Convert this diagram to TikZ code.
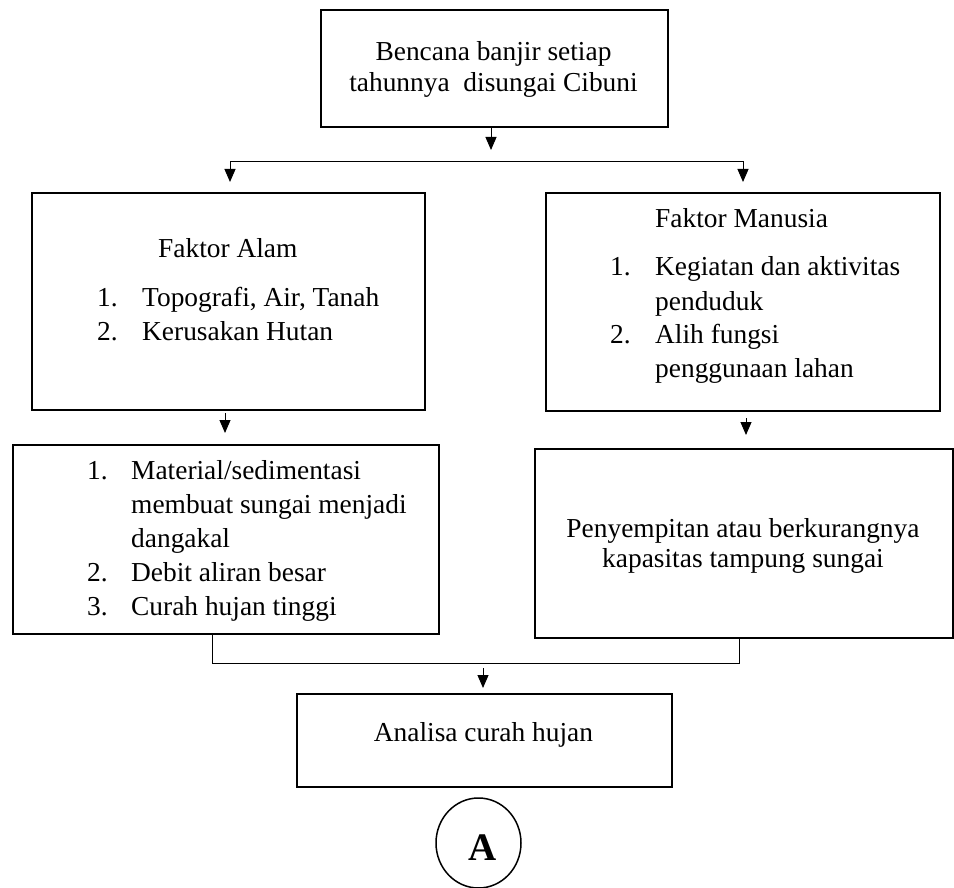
\documentclass[tikz,border=0pt]{standalone}
\usepackage{fontspec}
\setmainfont{Liberation Serif}
\usetikzlibrary{arrows.meta,shapes.geometric}
\begin{document}
\begin{tikzpicture}[x=1pt,y=-1pt,
  boxstyle/.style={draw, line width=2pt, inner sep=0pt, anchor=north west},
  conn/.style={line width=1pt},
  arr/.style={line width=1pt,-{Triangle[length=13pt,width=11pt]}},
  txt/.style={inner sep=0pt, anchor=base west, font=\fontsize{27.4}{34}\selectfont},
  ctxt/.style={inner sep=0pt, anchor=base, font=\fontsize{27.4}{34}\selectfont}]
\useasboundingbox (0,0) rectangle (954,888);

% boxes
\node[boxstyle, minimum width=347pt, minimum height=117pt] (top) at (320,9) {};
\node[boxstyle, minimum width=393pt, minimum height=217pt] (alam) at (31,192) {};
\node[boxstyle, minimum width=394pt, minimum height=218pt] (manusia) at (545,192) {};
\node[boxstyle, minimum width=426pt, minimum height=189pt] (alamdua) at (12,444) {};
\node[boxstyle, minimum width=418pt, minimum height=189pt] (manusiadua) at (534,448) {};
\node[boxstyle, minimum width=375pt, minimum height=93pt] (analisa) at (296,693) {};
\node[draw, ellipse, line width=1.5pt, inner sep=0pt, minimum width=85pt, minimum height=90pt] (conA) at (478.5,843) {};

% texts
\node[ctxt] (t1) at (493.5,61) {Bencana banjir setiap};
\node[ctxt] (t2) at (493.5,92) {tahunnya\ \ disungai Cibuni};

\node[txt] (fa) at (158,258) {Faktor Alam};
\node[txt] (fa1n) at (97,306) {1.};
\node[txt] (fa1) at (142,306) {Topografi, Air, Tanah};
\node[txt] (fa2n) at (97,340) {2.};
\node[txt] (fa2) at (142,340) {Kerusakan Hutan};

\node[txt] (fm) at (655,228) {Faktor Manusia};
\node[txt] (fm1n) at (610,276) {1.};
\node[txt] (fm1) at (655,276) {Kegiatan dan aktivitas};
\node[txt] (fm1b) at (655,310) {penduduk};
\node[txt] (fm2n) at (610,343) {2.};
\node[txt] (fm2) at (655,343) {Alih fungsi};
\node[txt] (fm2b) at (655,377) {penggunaan lahan};

\node[txt] (m1n) at (87,479) {1.};
\node[txt] (m1) at (131,479) {Material/sedimentasi};
\node[txt] (m1b) at (131,513) {membuat sungai menjadi};
\node[txt] (m1c) at (131,547) {dangakal};
\node[txt] (m2n) at (87,581) {2.};
\node[txt] (m2) at (131,581) {Debit aliran besar};
\node[txt] (m3n) at (87,615) {3.};
\node[txt] (m3) at (131,615) {Curah hujan tinggi};

\node[ctxt] (p1) at (743,537) {Penyempitan atau berkurangnya};
\node[ctxt] (p2) at (743,567) {kapasitas tampung sungai};

\node[ctxt] (an) at (483.5,741) {Analisa curah hujan};

\node[inner sep=0pt, anchor=base, font=\fontsize{39}{39}\selectfont\bfseries] (lblA) at (483,860) {A};

% connectors
\coordinate (topEnd) at (491,150);
\draw[arr] (top.south -| topEnd) -- (topEnd);

\coordinate (busL) at (230,162);
\coordinate (busR) at (743,162);
\coordinate (alamIn) at (230,182);
\coordinate (manIn) at (743,182);
\draw[conn, {Triangle[length=13pt,width=11pt]}-{Triangle[length=13pt,width=11pt]}] (alamIn) -- (busL) -- (busR) -- (manIn);

\coordinate (aOut) at (225,413);
\coordinate (aIn) at (225,433);
\draw[arr] (aOut) -- (aIn);
\coordinate (mOut) at (746,418);
\coordinate (mIn) at (746,435);
\draw[arr] (mOut) -- (mIn);

\coordinate (bL) at (212,663.5);
\coordinate (bR) at (739,663.5);
\draw[conn] (alamdua.south -| bL) -- (bL) -- (bR) -- (manusiadua.south -| bR);

\coordinate (anOut) at (483,668);
\coordinate (anIn) at (483,688);
\draw[arr] (anOut) -- (anIn);
\end{tikzpicture}
\end{document}
